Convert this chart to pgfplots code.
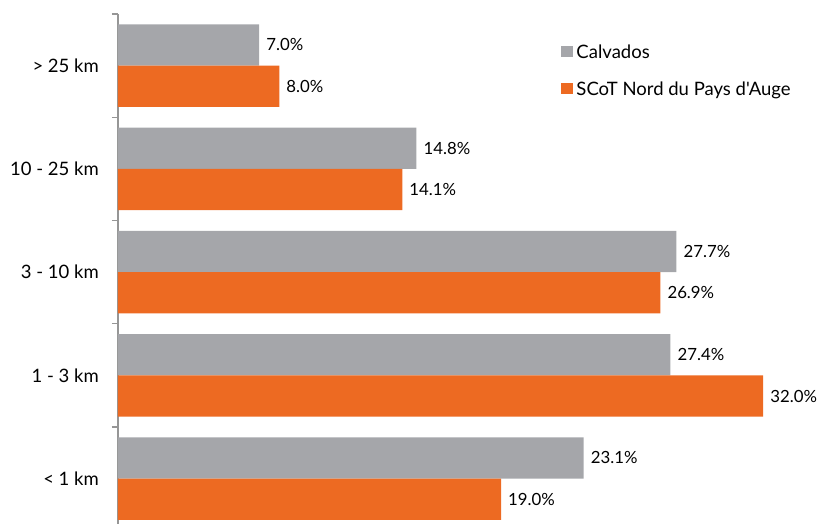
\documentclass[border=0pt]{standalone}
\usepackage{pgfplots}
\pgfplotsset{compat=1.18}
\usepackage{fontspec}
\setmainfont{Lato}[Ligatures=TeXOff]
\definecolor{cgray}{RGB}{165,166,170}
\definecolor{corange}{RGB}{237,106,34}
\definecolor{axgray}{RGB}{150,150,150}
\begin{document}
\begin{tikzpicture}[font=\fontsize{18.5}{22}\selectfont]
\begin{axis}[
  name=ax,
  scale only axis, width=705.6pt, height=516.25pt,
  xmin=0, xmax=35, ymin=-0.5, ymax=4.5,
  axis x line=none, axis y line*=left,
  y axis line style={draw=axgray, line width=1.2pt},
  ytick={0,1,2,3,4},
  yticklabels={< 1 km, 1 - 3 km, 3 - 10 km, 10 - 25 km, > 25 km},
  minor ytick={-0.5,0.5,1.5,2.5,3.5,4.5},
  major tick length=0pt, minor tick length=6pt, tick align=outside,
  minor tick style={draw=axgray, line width=1.2pt},
  yticklabel style={anchor=east, inner sep=0pt, xshift=-19pt, font=\fontsize{18.5}{22}\selectfont},
  /pgf/number format/assume math mode=true,
  point meta=x,
  nodes near coords={\pgfmathprintnumber[fixed,fixed zerofill,precision=1]{\pgfplotspointmeta}\%},
  nodes near coords style={anchor=west, inner sep=0pt, xshift=7pt, font=\fontsize{16.8}{20}\selectfont, text=black},
  legend style={at={(0.6278,0.939)}, anchor=north west, draw=none, fill=none,
    inner sep=0pt, outer sep=0pt, row sep=24pt,
    cells={anchor=base west},
    nodes={inner sep=0pt, text height=13pt, text depth=0pt, font=\fontsize{18.5}{22}\selectfont}},
  clip=false,
]
\addplot[xbar, bar width=41.3pt, bar shift=20.65pt, fill=cgray, draw=none,
  every node near coord/.append style={yshift=20.65pt},
  legend image code/.code={\fill[cgray] (0pt,1.5pt) rectangle (12pt,12.5pt);}]
  coordinates {(23.1,0) (27.4,1) (27.7,2) (14.8,3) (7.0,4)};
\addlegendentry{\hspace{3.5pt}Calvados}
\addplot[xbar, bar width=41.3pt, bar shift=-20.65pt, fill=corange, draw=none,
  every node near coord/.append style={yshift=-20.65pt},
  legend image code/.code={\fill[corange] (0pt,1.5pt) rectangle (12pt,12.5pt);}]
  coordinates {(19.0,0) (32.0,1) (26.9,2) (14.1,3) (8.0,4)};
\addlegendentry{\hspace{3.5pt}SCoT Nord du Pays d'Auge}
\end{axis}
\pgfresetboundingbox
\path[use as bounding box] ([xshift=-118pt,yshift=14pt]ax.north west) rectangle ([xshift=703pt,yshift=-510pt]ax.north west);
\end{tikzpicture}
\end{document}
